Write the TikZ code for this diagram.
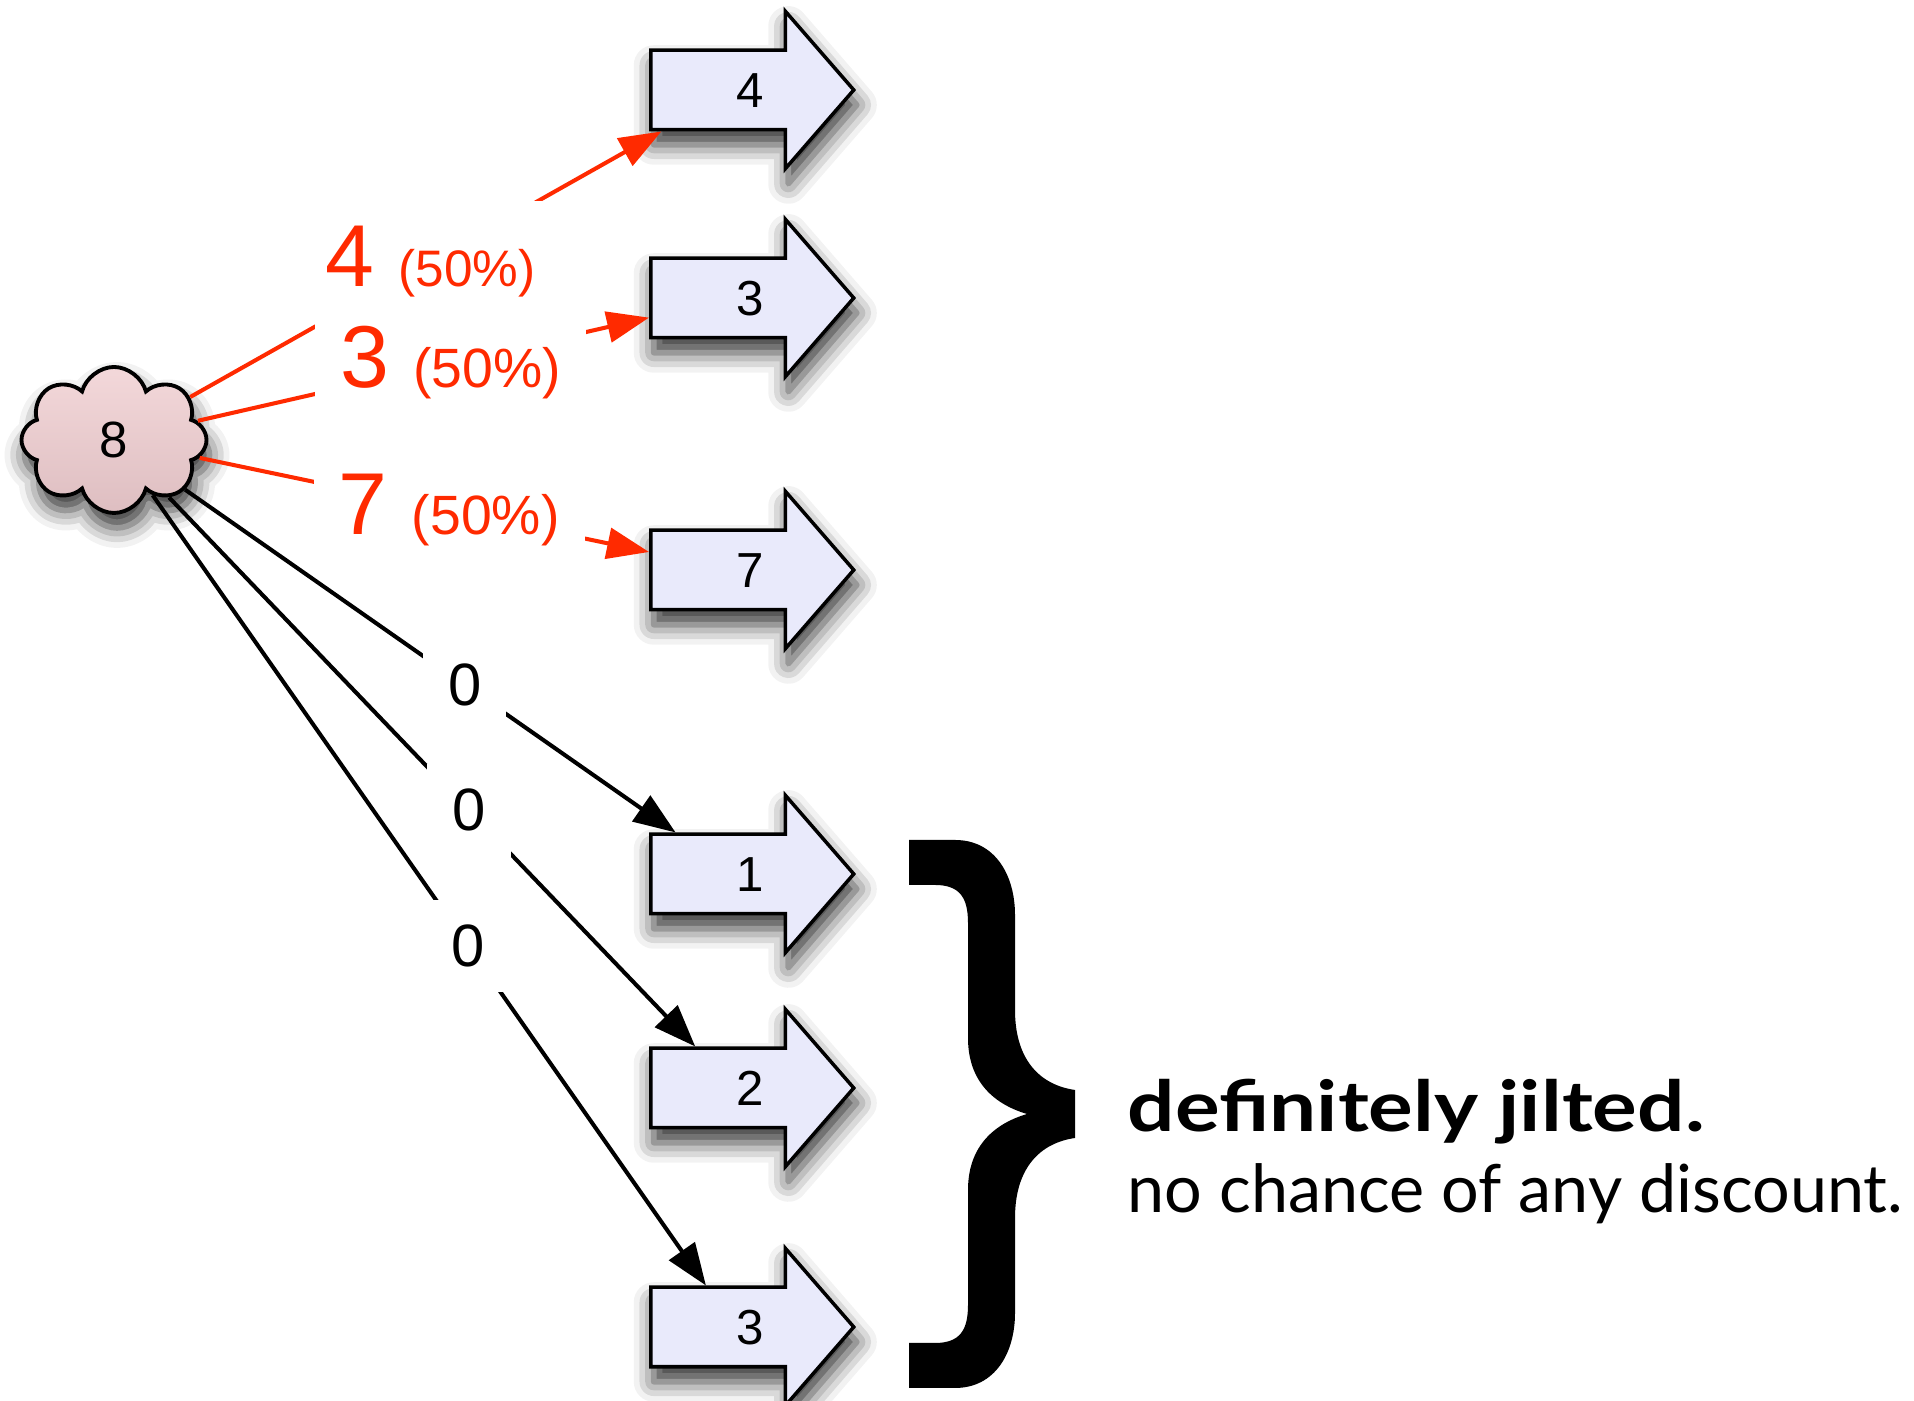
\documentclass[tikz,border=0pt]{standalone}
\usepackage{fontspec}
\setmainfont{Liberation Sans}
\newfontfamily\gillfont{Lato}
\newfontfamily\gillheavy{Lato}[FakeStretch=1.19]
\usepackage{xcolor}
\usepackage{tikz}
\usetikzlibrary{shapes.symbols, shapes.arrows, arrows.meta, shadows.blur, positioning}
\definecolor{hotred}{RGB}{255,42,0}
\definecolor{lavender}{RGB}{233,234,251}
\definecolor{rosetop}{RGB}{243,216,218}
\definecolor{rosebot}{RGB}{222,190,193}
\tikzstyle{softshadow} = [blur shadow={shadow xshift=0.3mm, shadow yshift=-1.5mm, shadow blur radius=2mm, shadow opacity=80}]
\tikzstyle{pile} = [cloud, cloud puffs=8, cloud puff arc=150, cloud ignores aspect, minimum width=1.85cm, minimum height=1.46cm, draw=black, line width=1.1pt, top color=rosetop, bottom color=rosebot, font=\fontsize{14.5}{17}\selectfont, softshadow]
\tikzstyle{outcome} = [single arrow, single arrow tip angle=98, single arrow head extend=0.39cm, minimum height=2.03cm, minimum width=1.54cm, inner xsep=0.2cm, inner ysep=0.2cm, text height=0.36cm, text depth=0cm, draw=black, line width=1pt, fill=lavender, font=\fontsize{14}{17}\selectfont, softshadow]
\tikzstyle{chance} = [fill=white, inner sep=2.5mm, text=hotred]
\tikzstyle{nought} = [fill=white, inner sep=2.5mm, font=\fontsize{17}{20}\selectfont]
\tikzstyle{maybe} = [line width=1.15pt, draw=hotred, -{Triangle[length=4.2mm, width=3.1mm]}]
\tikzstyle{surely} = [line width=1.15pt, draw=black, -{Triangle[length=4.2mm, width=3.1mm]}]
\newcommand{\odds}[2]{{\fontsize{25}{30}\selectfont #1 }{\fontsize{#2}{18}\selectfont (50\%)}}
% digit sits toward the arrow head
\newcommand{\pay}[1]{\hspace*{0.3cm}#1}

\begin{document}
\begin{tikzpicture}
        \useasboundingbox (0,0) rectangle (19.14,14.01);
        % Nodes
        \node (pile8) [pile] at (1.14,9.61) {8};
        \node (out4) [outcome, anchor=tail] at (6.49,13.11) {\pay{4}};
        \node (out3) [outcome, anchor=tail] at (6.49,11.03) {\pay{3}};
        \node (out7) [outcome, anchor=tail] at (6.49,8.31) {\pay{7}};
        \node (out1) [outcome, anchor=tail] at (6.49,5.27) {\pay{1}};
        \node (out2) [outcome, anchor=tail] at (6.49,3.13) {\pay{2}};
        \node (out3b) [outcome, anchor=tail] at (6.49,0.74) {\pay{3}};

        % Arrows
        \draw [maybe] (pile8) -- node[chance, pos=0.51] {\odds{4}{14.6}} (out4);
        \draw [maybe] (pile8) -- node[chance, pos=0.56] {\odds{3}{15.75}} (out3);
        \draw [maybe] (pile8) -- node[chance, pos=0.555] {\odds{7}{15.75}} (out7);
        \draw [surely] (pile8) -- node[nought, pos=0.57] {0} (out1);
        \draw [surely] (pile8) -- node[nought, pos=0.57] {0} (out2);
        \draw [surely] (pile8) -- node[nought, pos=0.57] {0} (out3b);

        % Brace
        \fill (9.09,5.61) -- (9.55,5.61) .. controls (9.95,5.61) and (10.15,5.26) .. (10.15,4.86)
          -- (10.15,3.91) .. controls (10.15,3.41) and (10.40,3.16) .. (10.75,3.11)
          -- (10.75,2.63) .. controls (10.40,2.58) and (10.15,2.33) .. (10.15,1.83)
          -- (10.15,0.88) .. controls (10.15,0.48) and (9.95,0.13) .. (9.55,0.13)
          -- (9.09,0.13) -- (9.09,0.58) -- (9.35,0.58)
          .. controls (9.60,0.58) and (9.68,0.71) .. (9.68,0.96)
          -- (9.68,2.11) .. controls (9.68,2.51) and (9.90,2.76) .. (10.27,2.87)
          .. controls (9.90,2.98) and (9.68,3.23) .. (9.68,3.63)
          -- (9.68,4.78) .. controls (9.68,5.03) and (9.60,5.16) .. (9.35,5.16)
          -- (9.09,5.16) -- cycle;
        \node (jilted) [anchor=base west, inner sep=0pt, font=\gillheavy\bfseries\fontsize{20}{24}\selectfont] at (11.27,2.69) {definitely jilted.};
        \node (nodiscount) [anchor=base west, inner sep=0pt, font=\gillfont\fontsize{18.9}{22}\selectfont] at (11.27,1.88) {no chance of any discount.};
    \end{tikzpicture}
\end{document}
